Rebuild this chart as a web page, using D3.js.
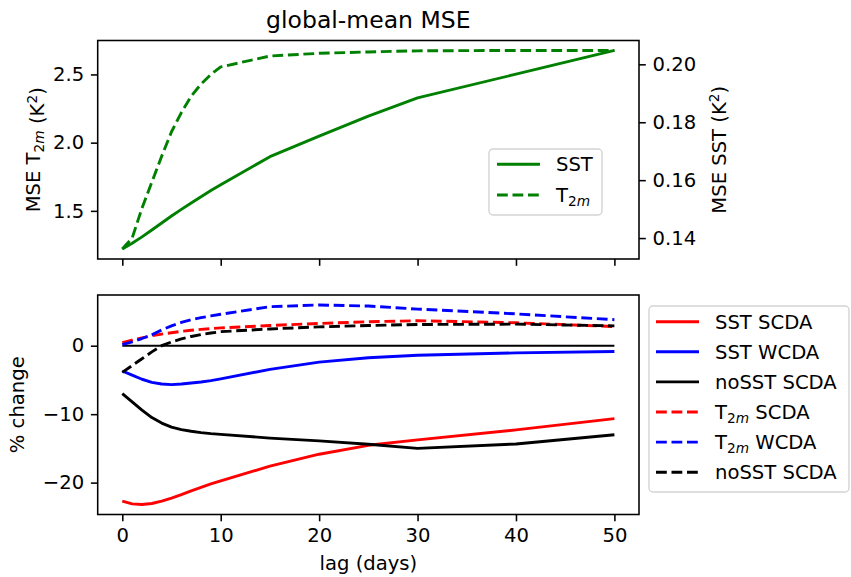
<!DOCTYPE html>
<html>
<head>
<meta charset="utf-8">
<script src="https://cdn.jsdelivr.net/npm/d3@7"></script>
<style>
	body { margin: 0; background: white; }
	text { font-family: "DejaVu Sans", sans-serif; }
</style>
</head>
<body>
<div id="chart"></div>
<script>
// lags (days) and the series

const lags = [0, 1, 2, 3, 4, 5, 6, 7, 8, 9, 10, 15, 20, 25, 30, 40, 50];

// top panel
const mse_t2m = [1.22, 1.30, 1.52, 1.71, 1.90, 2.08, 2.22, 2.34, 2.43, 2.50, 2.555, 2.635, 2.655, 2.665, 2.673, 2.676, 2.676];
const mse_sst = [0.1362, 0.1382, 0.1404, 0.1428, 0.1452, 0.1476, 0.1499, 0.1521, 0.1543, 0.1564, 0.1584, 0.1681, 0.1752, 0.1821, 0.1884, 0.1966, 0.2048];

// bottom panel (% change)
const sst_scda = [-22.7, -23.1, -23.2, -23.05, -22.7, -22.25, -21.75, -21.2, -20.7, -20.2, -19.75, -17.6, -15.85, -14.55, -13.75, -12.3, -10.65];
const sst_wcda = [-3.7, -4.3, -4.9, -5.35, -5.6, -5.68, -5.6, -5.45, -5.3, -5.1, -4.85, -3.45, -2.4, -1.75, -1.4, -1.05, -0.85];
const nosst_scda = [-7.0, -8.2, -9.4, -10.5, -11.3, -11.9, -12.25, -12.5, -12.7, -12.85, -12.95, -13.5, -13.9, -14.4, -15.0, -14.35, -13.0];
const t2m_scda = [0.45, 0.8, 1.15, 1.45, 1.7, 1.9, 2.1, 2.25, 2.38, 2.5, 2.6, 2.95, 3.25, 3.5, 3.65, 3.35, 2.8];
const t2m_wcda = [0.15, 0.55, 1.05, 1.6, 2.3, 2.9, 3.4, 3.8, 4.1, 4.35, 4.6, 5.7, 5.95, 5.8, 5.35, 4.65, 3.8];
const t2m_nosst_scda = [-3.9, -2.9, -1.9, -0.9, 0.0, 0.55, 1.0, 1.35, 1.62, 1.85, 2.05, 2.45, 2.75, 2.95, 3.1, 3.15, 2.9];

const zero_lags = [0, 50];
const zero_vals = [0, 0];

// tick labels
const x_ticks = [0, 10, 20, 30, 40, 50];
const t2m_ticks = [1.5, 2.0, 2.5];
const sst_ticks = [0.14, 0.16, 0.18, 0.20];
const change_ticks = [-20, -10, 0];

const width = 851, height = 577;
const fs = 19.6;
const lw = 2.9;
const dash = "10.8,4.7";

const left = 97.7, right = 639;
const top1 = {y0: 40.5, y1: 259};
const top2 = {y0: 295, y1: 514.5};

// matplotlib-like 5% margin around the data
function pad(arrays, m) {
	var all = [].concat(...arrays);
	var lo = d3.min(all), hi = d3.max(all);
	var d = (hi - lo) * m;
	return [lo - d, hi + d];
}

var svg = d3.select("#chart")
	.append("svg")
		.attr("width", width)
		.attr("height", height);

var x = d3.scaleLinear().domain(pad([lags], 0.05)).range([left, right]);
var yT2m = d3.scaleLinear().domain(pad([mse_t2m], 0.05)).range([top1.y1, top1.y0]);
var ySST = d3.scaleLinear().domain(pad([mse_sst], 0.05)).range([top1.y1, top1.y0]);
var yChg = d3.scaleLinear()
	.domain(pad([sst_scda, sst_wcda, nosst_scda, t2m_scda, t2m_wcda, t2m_nosst_scda, zero_vals], 0.05))
	.range([top2.y1, top2.y0]);

function styleAxis(g) {
	g.select(".domain").remove();
	g.selectAll(".tick line").attr("stroke", "black").attr("stroke-width", 1.56);
	g.selectAll(".tick text")
		.attr("font-size", fs)
		.attr("font-family", "DejaVu Sans")
		.attr("fill", "black");
}

// text with a mathtext style subscript "2m"
function t2mLabel(sel, before, after) {
	sel.append("tspan").text(before + "T");
	sel.append("tspan").attr("font-size", fs * 0.7).attr("dy", 4).text("2");
	sel.append("tspan").attr("font-size", fs * 0.7).attr("font-style", "italic").text("m");
	sel.append("tspan").attr("dy", -4).text(after);
}

function kLabel(sel) {
	sel.append("tspan").text(" (K");
	sel.append("tspan").attr("font-size", fs * 0.7).attr("dy", -7).text("2");
	sel.append("tspan").attr("dy", 7).text(")");
}

function drawLine(xs, ys, yscale, color, dashed, w) {
	var pts = xs.map(function(d, i) { return [d, ys[i]]; });
	svg.append("path")
		.datum(pts)
		.attr("fill", "none")
		.attr("stroke", color)
		.attr("stroke-width", w || lw)
		.attr("stroke-linejoin", "round")
		.attr("stroke-dasharray", dashed ? dash : null)
		.attr("d", d3.line()
			.x(function(d) { return x(d[0]); })
			.y(function(d) { return yscale(d[1]); }));
}

// ---- top panel ----
svg.append("g")
	.attr("transform", `translate(0,${top1.y1})`)
	.call(d3.axisBottom(x).tickValues(x_ticks).tickSize(6.8).tickFormat(""))
	.call(styleAxis);
svg.append("g")
	.attr("transform", `translate(${left},0)`)
	.call(d3.axisLeft(yT2m).tickValues(t2m_ticks).tickSize(6.8).tickPadding(6.8).tickFormat(d3.format(".1f")))
	.call(styleAxis);
svg.append("g")
	.attr("transform", `translate(${right},0)`)
	.call(d3.axisRight(ySST).tickValues(sst_ticks).tickSize(6.8).tickPadding(6.8).tickFormat(d3.format(".2f")))
	.call(styleAxis);

drawLine(lags, mse_t2m, yT2m, "green", true);
drawLine(lags, mse_sst, ySST, "green", false);

svg.append("rect")
	.attr("x", left).attr("y", top1.y0)
	.attr("width", right - left).attr("height", top1.y1 - top1.y0)
	.attr("fill", "none").attr("stroke", "black").attr("stroke-width", 1.56);

svg.append("text")
	.attr("x", (left + right) / 2)
	.attr("y", 28)
	.attr("text-anchor", "middle")
	.attr("font-size", fs * 1.2)
	.text("global-mean MSE");

var lab1 = svg.append("text")
	.attr("transform", `translate(39.5,${(top1.y0 + top1.y1) / 2}) rotate(-90)`)
	.attr("text-anchor", "middle")
	.attr("font-size", fs);
t2mLabel(lab1, "MSE ", "");
kLabel(lab1);

var lab2 = svg.append("text")
	.attr("transform", `translate(726,${(top1.y0 + top1.y1) / 2}) rotate(-90)`)
	.attr("text-anchor", "middle")
	.attr("font-size", fs)
	.text("MSE SST");
kLabel(lab2);

// legend top
var leg1 = svg.append("g");
leg1.append("rect")
	.attr("x", 489).attr("y", 149).attr("width", 113).attr("height", 66)
	.attr("rx", 4).attr("fill", "white").attr("fill-opacity", 0.8)
	.attr("stroke", "#d4d4d4").attr("stroke-width", 1.4);
var top_items = [{label: "SST", dashed: false}, {label: "T2m", dashed: true}];
top_items.forEach(function(it, i) {
	var yy = 164.3 + i * 30.7;
	leg1.append("line")
		.attr("x1", 497).attr("x2", 540).attr("y1", yy).attr("y2", yy)
		.attr("stroke", "green").attr("stroke-width", lw)
		.attr("stroke-dasharray", it.dashed ? dash : null);
	var t = leg1.append("text").attr("x", 556).attr("y", yy).attr("dy", "0.36em").attr("font-size", fs);
	if (it.dashed) t2mLabel(t, "", ""); else t.text(it.label);
});

// ---- bottom panel ----
svg.append("g")
	.attr("transform", `translate(0,${top2.y1})`)
	.call(d3.axisBottom(x).tickValues(x_ticks).tickSize(6.8).tickPadding(6.8).tickFormat(d3.format("d")))
	.call(styleAxis);
svg.append("g")
	.attr("transform", `translate(${left},0)`)
	.call(d3.axisLeft(yChg).tickValues(change_ticks).tickSize(6.8).tickPadding(6.8).tickFormat(d3.format("d")))
	.call(styleAxis);

drawLine(zero_lags, zero_vals, yChg, "black", false, 1.9);

var bottom_items = [
	{vals: sst_scda, color: "red", dashed: false, pre: "SST SCDA"},
	{vals: sst_wcda, color: "blue", dashed: false, pre: "SST WCDA"},
	{vals: nosst_scda, color: "black", dashed: false, pre: "noSST SCDA"},
	{vals: t2m_scda, color: "red", dashed: true, pre: " SCDA"},
	{vals: t2m_wcda, color: "blue", dashed: true, pre: " WCDA"},
	{vals: t2m_nosst_scda, color: "black", dashed: true, pre: "noSST SCDA", plain: true}
];
bottom_items.forEach(function(it) {
	drawLine(lags, it.vals, yChg, it.color, it.dashed);
});

svg.append("rect")
	.attr("x", left).attr("y", top2.y0)
	.attr("width", right - left).attr("height", top2.y1 - top2.y0)
	.attr("fill", "none").attr("stroke", "black").attr("stroke-width", 1.56);

svg.append("text")
	.attr("x", (left + right) / 2)
	.attr("y", 570)
	.attr("text-anchor", "middle")
	.attr("font-size", fs)
	.text("lag (days)");

svg.append("text")
	.attr("transform", `translate(24,${(top2.y0 + top2.y1) / 2}) rotate(-90)`)
	.attr("text-anchor", "middle")
	.attr("font-size", fs)
	.text("% change");

// legend bottom
var leg2 = svg.append("g");
leg2.append("rect")
	.attr("x", 649).attr("y", 306).attr("width", 200).attr("height", 186)
	.attr("rx", 4).attr("fill", "white").attr("fill-opacity", 0.8)
	.attr("stroke", "#d4d4d4").attr("stroke-width", 1.4);
bottom_items.forEach(function(it, i) {
	var yy = 321.7 + i * 30.1;
	leg2.append("line")
		.attr("x1", 656).attr("x2", 699).attr("y1", yy).attr("y2", yy)
		.attr("stroke", it.color).attr("stroke-width", lw)
		.attr("stroke-dasharray", it.dashed ? dash : null);
	var t = leg2.append("text").attr("x", 715).attr("y", yy).attr("dy", "0.36em").attr("font-size", fs);
	if (it.dashed && !it.plain) t2mLabel(t, "", it.pre); else t.text(it.pre);
});
</script>
</body>
</html>
